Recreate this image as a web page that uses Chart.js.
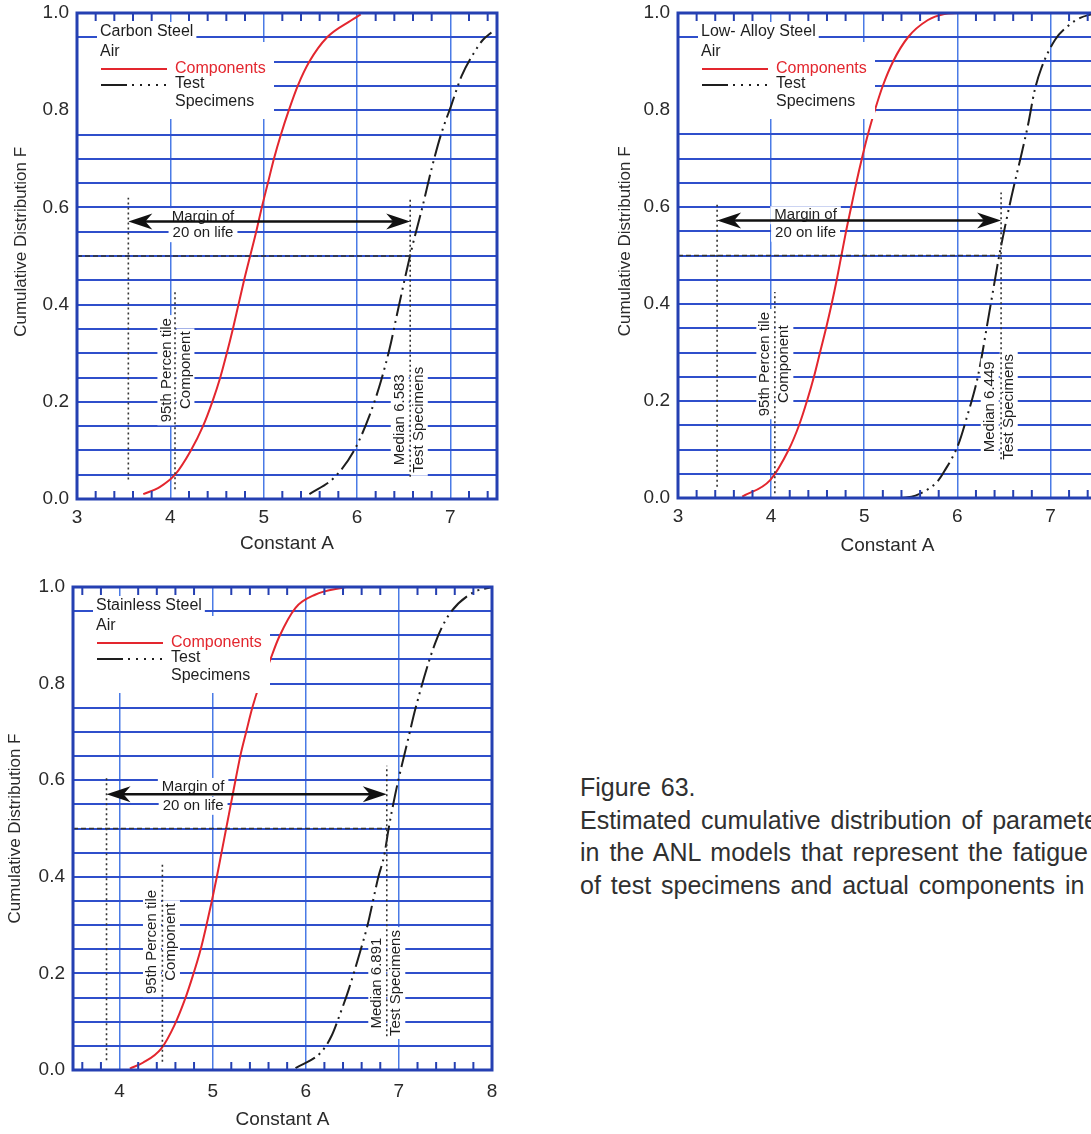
<!DOCTYPE html>
<html>
<head>
<meta charset="utf-8">
<title>Figure 63</title>
<script src="https://cdn.jsdelivr.net/npm/chart.js@4.4.0/dist/chart.umd.min.js"></script>
<style>
  html, body { margin: 0; padding: 0; background: #fff; overflow: hidden; width: 1091px; height: 1134px; }
  .pane { position: absolute; }
  .caption {
    position: absolute; left: 580px; top: 771px;
    font: 25px "Liberation Sans", Arial, sans-serif; color: #303030;
    line-height: 32.5px; white-space: nowrap; word-spacing: 3px;
  }
</style>
</head>
<body>
<div class="pane" style="left:0;top:0"><canvas id="carbon" width="520" height="565"></canvas></div>
<div class="pane" style="left:600px;top:0"><canvas id="lowalloy" width="520" height="565"></canvas></div>
<div class="pane" style="left:0;top:575px"><canvas id="stainless" width="520" height="559"></canvas></div>
<div class="caption">
  <div>Figure 63.</div>
  <div>Estimated cumulative distribution of parameter A</div>
  <div>in the ANL models that represent the fatigue life</div>
  <div>of test specimens and actual components in air.</div>
</div>
<script>
// ---- values ----
// Carbon steel, air
const carbonCompA = [3.71, 3.89, 4.05, 4.22, 4.35, 4.45, 4.535, 4.605, 4.67, 4.73, 4.79, 4.855, 4.92, 4.98, 5.045, 5.11, 5.185, 5.27, 5.365, 5.49, 5.68, 5.94, 6.04];
const carbonCompF = [0.01, 0.025, 0.05, 0.10, 0.15, 0.20, 0.25, 0.30, 0.35, 0.40, 0.45, 0.50, 0.55, 0.60, 0.65, 0.70, 0.75, 0.80, 0.85, 0.90, 0.95, 0.985, 0.997];
const carbonTestA = [5.49, 5.76, 5.97, 6.15, 6.26, 6.35, 6.44, 6.58, 6.70, 6.80, 6.90, 7.01, 7.12, 7.26, 7.35, 7.44];
const carbonTestF = [0.01, 0.045, 0.10, 0.18, 0.245, 0.31, 0.39, 0.51, 0.60, 0.68, 0.75, 0.81, 0.87, 0.92, 0.945, 0.96];
const carbonMarkA = [3.55, 4.05, 6.57];   // margin start, 95th percentile, median
const carbonMarkLo = [0.04, 0.02, 0.046];
const carbonMarkHi = [0.62, 0.43, 0.62];

// Low-alloy steel, air
const lowCompA = [3.69, 3.99, 4.19, 4.30, 4.385, 4.46, 4.525, 4.59, 4.65, 4.705, 4.755, 4.805, 4.86, 4.915, 4.975, 5.04, 5.115, 5.20, 5.31, 5.47, 5.68, 5.86, 6.00];
const lowCompF = [0.003, 0.037, 0.10, 0.15, 0.20, 0.25, 0.30, 0.35, 0.40, 0.45, 0.50, 0.55, 0.60, 0.65, 0.70, 0.75, 0.80, 0.85, 0.90, 0.95, 0.985, 0.998, 1.0];
const lowTestA = [5.40, 5.55, 5.70, 5.79, 5.86, 6.01, 6.10, 6.22, 6.35, 6.45, 6.58, 6.69, 6.76, 6.83, 6.90, 7.05, 7.20, 7.32, 7.45];
const lowTestF = [0.0, 0.005, 0.02, 0.035, 0.055, 0.11, 0.165, 0.25, 0.39, 0.50, 0.62, 0.71, 0.77, 0.84, 0.885, 0.945, 0.975, 0.99, 0.998];
const lowMarkA = [3.42, 4.04, 6.47];
const lowMarkLo = [0.023, 0.01, 0.08];
const lowMarkHi = [0.61, 0.425, 0.63];

// Stainless steel, air
const ssCompA = [4.11, 4.25, 4.45, 4.59, 4.70, 4.79, 4.87, 4.93, 4.99, 5.045, 5.095, 5.145, 5.195, 5.245, 5.30, 5.36, 5.43, 5.50, 5.59, 5.71, 5.89, 6.10, 6.43];
const ssCompF = [0.003, 0.015, 0.045, 0.093, 0.145, 0.197, 0.249, 0.297, 0.349, 0.40, 0.45, 0.50, 0.55, 0.60, 0.653, 0.70, 0.753, 0.795, 0.835, 0.895, 0.957, 0.984, 1.0];
const ssTestA = [5.89, 6.17, 6.28, 6.37, 6.46, 6.59, 6.66, 6.78, 6.84, 6.89, 6.96, 7.11, 7.18, 7.39, 7.54, 7.79, 8.0];
const ssTestF = [0.004, 0.038, 0.072, 0.117, 0.166, 0.249, 0.297, 0.40, 0.442, 0.50, 0.57, 0.694, 0.75, 0.884, 0.943, 0.988, 1.0];
const ssMarkA = [3.86, 4.46, 6.87];
const ssMarkLo = [0.02, 0.017, 0.07];
const ssMarkHi = [0.61, 0.428, 0.63];

const arrowF = [0.571, 0.572, 0.571];

// ---- styling ----
const FONT = '"Liberation Sans", Arial, Helvetica, sans-serif';
const RED = '#e3262e';
const INK = '#1e1e1e';
const GRID_H = '#2f4fcb';
const GRID_V = '#4a7be6';
const FRAME = '#2540b2';
const TEST_DASH = [22, 5, 2, 5, 2, 5];

Chart.defaults.font.family = FONT;
Chart.defaults.color = '#2a2a2a';
Chart.defaults.animation = false;

const isInt = v => Math.abs(v - Math.round(v)) < 1e-6;
const isFifth = v => Math.abs(v * 5 - Math.round(v * 5)) < 1e-6;
const pts = (xs, ys) => xs.map((x, i) => ({ x: x, y: ys[i] }));

function boxedText(ctx, text, x, y) {
  const w = ctx.measureText(text).width;
  ctx.fillStyle = '#fff';
  ctx.fillRect(x - w / 2 - 4, y - 9, w + 8, 18);
  ctx.fillStyle = INK;
  ctx.fillText(text, x, y);
}

function rotatedPair(ctx, lines, x, y) {
  ctx.save();
  ctx.translate(x, y);
  ctx.rotate(-Math.PI / 2);
  lines.forEach((s, i) => {
    const off = (i - 0.5) * 19;
    const w = ctx.measureText(s).width;
    ctx.fillStyle = '#fff';
    ctx.fillRect(-w / 2 - 3, off - 9, w + 6, 18);
    ctx.fillStyle = INK;
    ctx.fillText(s, 0, off);
  });
  ctx.restore();
}

function arrowHead(ctx, x, y, dir) {
  const L = 24, W = 8, notch = 7;
  ctx.beginPath();
  ctx.moveTo(x, y);
  ctx.lineTo(x - dir * L, y - W);
  ctx.lineTo(x - dir * (L - notch), y);
  ctx.lineTo(x - dir * L, y + W);
  ctx.closePath();
  ctx.fill();
}

function figurePlugin(cfg) {
  return {
    id: 'figure',
    afterDatasetDraw(chart, args) {
      if (!chart.data.datasets[args.index].coverAfter) return;
      const ctx = chart.ctx, a = chart.chartArea, xs = chart.scales.x, ys = chart.scales.y;
      const l = a.left, t = a.top;
      ctx.save();
      ctx.textBaseline = 'middle';
      // legend block
      ctx.fillStyle = '#fff';
      ctx.fillRect(l + 1, t + 29, 196, 77);
      ctx.font = '16px ' + FONT;
      ctx.textAlign = 'left';
      const tw = ctx.measureText(cfg.title).width;
      ctx.fillRect(l + 20, t + 9, tw + 6, 20);
      ctx.fillStyle = INK;
      ctx.fillText(cfg.title, l + 23, t + 19);
      ctx.fillText('Air', l + 23, t + 39);
      ctx.lineWidth = 2;
      ctx.strokeStyle = RED;
      ctx.beginPath(); ctx.moveTo(l + 24, t + 56); ctx.lineTo(l + 90, t + 56); ctx.stroke();
      ctx.fillStyle = RED;
      ctx.fillText('Components', l + 98, t + 56);
      ctx.strokeStyle = INK;
      ctx.setLineDash([26, 5, 2, 6, 2, 6, 2, 6, 2, 6, 2, 40]);
      ctx.beginPath(); ctx.moveTo(l + 24, t + 72); ctx.lineTo(l + 90, t + 72); ctx.stroke();
      ctx.setLineDash([]);
      ctx.fillStyle = INK;
      ctx.fillText('Test', l + 98, t + 71);
      ctx.fillText('Specimens', l + 98, t + 89);
      // margin label
      ctx.font = '15px ' + FONT;
      ctx.textAlign = 'center';
      const mx = xs.getPixelForValue(cfg.marginX);
      boxedText(ctx, 'Margin of', mx, ys.getPixelForValue(cfg.marginF[0]));
      boxedText(ctx, '20 on life', mx, ys.getPixelForValue(cfg.marginF[1]));
      // rotated labels
      rotatedPair(ctx, ['95th Percen tile', 'Component'],
        xs.getPixelForValue(cfg.pctX), ys.getPixelForValue(cfg.pctF));
      rotatedPair(ctx, ['Median ' + cfg.median, 'Test Specimens'],
        xs.getPixelForValue(cfg.medX), ys.getPixelForValue(cfg.medF));
      ctx.restore();
    },
    afterDatasetsDraw(chart) {
      const ctx = chart.ctx, a = chart.chartArea, xs = chart.scales.x, ys = chart.scales.y;
      ctx.save();
      // double arrow: margin of 20 on life
      const y = ys.getPixelForValue(cfg.arrowF);
      const x1 = xs.getPixelForValue(cfg.markA[0]);
      const x2 = xs.getPixelForValue(cfg.markA[2]);
      ctx.strokeStyle = '#111';
      ctx.fillStyle = '#111';
      ctx.lineWidth = 2.5;
      ctx.beginPath(); ctx.moveTo(x1 + 10, y); ctx.lineTo(x2 - 10, y); ctx.stroke();
      arrowHead(ctx, x1, y, -1);
      arrowHead(ctx, x2, y, 1);
      // inward minor ticks top and bottom
      ctx.strokeStyle = FRAME;
      ctx.lineWidth = 2;
      ctx.beginPath();
      xs.ticks.forEach(tk => {
        if (isInt(tk.value)) return;
        const px = xs.getPixelForValue(tk.value);
        ctx.moveTo(px, a.bottom); ctx.lineTo(px, a.bottom - 8);
        ctx.moveTo(px, a.top); ctx.lineTo(px, a.top + 8);
      });
      ctx.stroke();
      // frame
      ctx.lineWidth = 3;
      ctx.strokeRect(a.left, a.top, a.right - a.left, a.bottom - a.top);
      ctx.restore();
    }
  };
}

function makeChart(id, cfg) {
  const yW = cfg.area.l - cfg.left;
  const xH = cfg.top + cfg.h - cfg.area.b;
  const marker = (i) => ({
    data: [{ x: cfg.markA[i], y: cfg.markLo[i] }, { x: cfg.markA[i], y: cfg.markHi[i] }],
    showLine: true, borderColor: '#333', borderWidth: 1.6, borderDash: [2, 3], order: 1
  });
  return new Chart(document.getElementById(id), {
    type: 'scatter',
    data: {
      datasets: [
        { label: 'Components', data: pts(cfg.compA, cfg.compF), showLine: true,
          borderColor: RED, borderWidth: 2, cubicInterpolationMode: 'monotone', order: 3, coverAfter: true },
        { label: 'Test Specimens', data: pts(cfg.testA, cfg.testF), showLine: true,
          borderColor: INK, borderWidth: 2, borderDash: TEST_DASH, cubicInterpolationMode: 'monotone', order: 4 },
        marker(0), marker(1), marker(2),
        { data: [{ x: cfg.xMin, y: 0.5 }, { x: cfg.markA[2], y: 0.5 }], showLine: true,
          borderColor: '#333', borderWidth: 1.6, borderDash: [5, 3], order: 1 }
      ]
    },
    options: {
      responsive: false,
      devicePixelRatio: 1,
      events: [],
      layout: { padding: { left: 0, top: cfg.area.t - cfg.top, right: cfg.left + cfg.w - cfg.area.r, bottom: 0 } },
      elements: { point: { radius: 0 }, line: { tension: 0 } },
      plugins: { legend: { display: false }, tooltip: { enabled: false } },
      scales: {
        x: {
          type: 'linear', min: cfg.xMin, max: cfg.xMax,
          ticks: {
            stepSize: 0.2, includeBounds: false, autoSkip: false, maxRotation: 0,
            padding: cfg.xTickPad, font: { size: 19 }, color: '#2a2a2a',
            callback: v => isInt(v) ? String(Math.round(v)) : ''
          },
          grid: { drawTicks: false, lineWidth: 1.5,
                  color: c => (c.tick && isInt(c.tick.value)) ? GRID_V : 'rgba(0,0,0,0)' },
          border: { display: false },
          title: { display: true, text: 'Constant A', font: { size: 19 }, color: '#2a2a2a',
                   padding: { top: 0, bottom: cfg.xTitlePad } },
          afterFit: s => { s.height = xH; s.paddingLeft = 0; s.paddingRight = 0; }
        },
        y: {
          min: 0, max: 1,
          ticks: {
            stepSize: 0.05, autoSkip: false, padding: 8, font: { size: 19 }, color: '#2a2a2a',
            callback: v => isFifth(v) ? v.toFixed(1) : ''
          },
          grid: { drawTicks: false, lineWidth: 2, color: GRID_H },
          border: { display: false },
          title: { display: true, text: cfg.yTitle, font: { size: 17 }, color: '#2a2a2a',
                   padding: { top: cfg.yTitlePad, bottom: 0 } },
          afterFit: s => { s.width = yW; s.paddingTop = 0; s.paddingBottom = 0; }
        }
      }
    },
    plugins: [figurePlugin(cfg)]
  });
}

makeChart('carbon', {
  left: 0, top: 0, w: 520, h: 565, area: { l: 77, t: 13, r: 497, b: 499 },
  xMin: 3, xMax: 7.5, xTickPad: 7, xTitlePad: 10, yTitlePad: 11,
  yTitle: '      Cumulative Distribution F',
  compA: carbonCompA, compF: carbonCompF, testA: carbonTestA, testF: carbonTestF,
  markA: carbonMarkA, markLo: carbonMarkLo, markHi: carbonMarkHi, arrowF: arrowF[0],
  title: 'Carbon Steel', median: '6.583',
  marginX: 4.35, marginF: [0.58, 0.547], pctX: 4.06, pctF: 0.265, medX: 6.56, medF: 0.163
});

makeChart('lowalloy', {
  left: 600, top: 0, w: 520, h: 565, area: { l: 678, t: 13, r: 1097, b: 498 },
  xMin: 3, xMax: 7.5, xTickPad: 7, xTitlePad: 8, yTitlePad: 15,
  yTitle: '      Cumulative Distribution F',
  compA: lowCompA, compF: lowCompF, testA: lowTestA, testF: lowTestF,
  markA: lowMarkA, markLo: lowMarkLo, markHi: lowMarkHi, arrowF: arrowF[1],
  title: 'Low- Alloy Steel', median: '6.449',
  marginX: 4.37, marginF: [0.583, 0.547], pctX: 4.04, pctF: 0.276, medX: 6.45, medF: 0.188
});

makeChart('stainless', {
  left: 0, top: 575, w: 520, h: 559, area: { l: 73, t: 587, r: 492, b: 1070 },
  xMin: 3.5, xMax: 8, xTickPad: 10, xTitlePad: 3, yTitlePad: 5,
  yTitle: 'Cumulative Distribution F',
  compA: ssCompA, compF: ssCompF, testA: ssTestA, testF: ssTestF,
  markA: ssMarkA, markLo: ssMarkLo, markHi: ssMarkHi, arrowF: arrowF[2],
  title: 'Stainless Steel', median: '6.891',
  marginX: 4.79, marginF: [0.586, 0.547], pctX: 4.45, pctF: 0.265, medX: 6.87, medF: 0.18
});
</script>
</body>
</html>
